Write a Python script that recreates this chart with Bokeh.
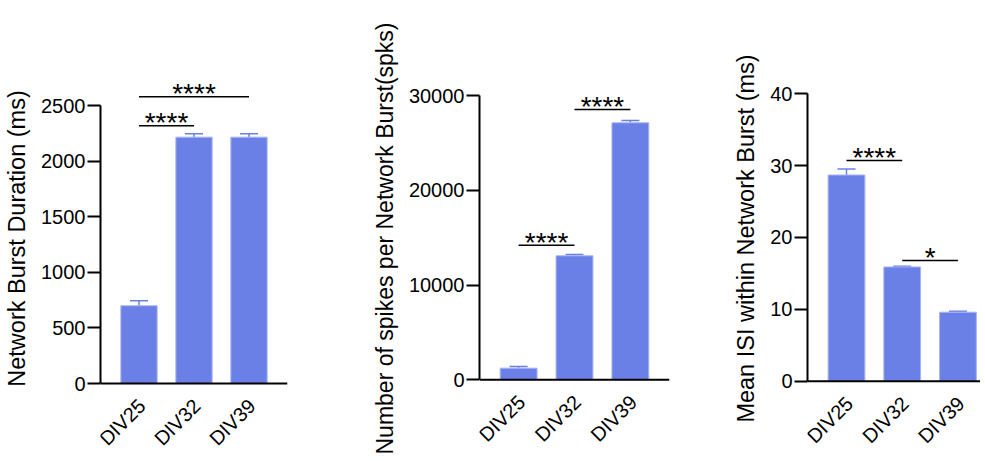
import math
from bokeh.plotting import figure
from bokeh.layouts import row
from bokeh.models import Range1d, FixedTicker, Span, Whisker, TeeHead, ColumnDataSource
from bokeh.core.properties import value
from bokeh.embed import file_html
from bokeh.resources import INLINE

# ---------------- data ----------------
groups = ["DIV25", "DIV32", "DIV39"]

duration_mean = [700, 2218, 2218]
duration_sem = [45, 30, 30]

spikes_mean = [1230, 13100, 27150]
spikes_sem = [170, 140, 240]

isi_mean = [28.7, 15.9, 9.6]
isi_sem = [0.85, 0.1, 0.15]

duration_ticks = [0, 500, 1000, 1500, 2000, 2500]
spikes_ticks = [0, 10000, 20000, 30000]
isi_ticks = [0, 10, 20, 30, 40]

# significance brackets: (from group, to group, bracket level, label)
duration_sig = [(0, 1, 2320, "****"), (0, 2, 2581, "****")]
spikes_sig = [(0, 1, 14200, "****"), (1, 2, 28550, "****")]
isi_sig = [(0, 1, 30.7, "****"), (1, 2, 16.8, "*")]

# ---------------- style ----------------
FONT = "Liberation Sans"
BAR = "#6b80e6"
BAR_EDGE = "#a9b5f2"
X0 = 0.3


def panel(title, means, sems, ticks, sig, width, height, bl, br, bt, bb,
          x_end, y_start, y_end, title_size):
    p = figure(width=width, height=height, output_backend="svg", title=None,
               toolbar_location=None, x_range=Range1d(X0, x_end),
               y_range=Range1d(y_start, y_end), min_border=0)
    p.min_border_left = bl
    p.min_border_right = br
    p.min_border_top = bt
    p.min_border_bottom = bb
    p.outline_line_color = None
    p.background_fill_color = "white"
    p.border_fill_color = "white"
    p.xgrid.grid_line_color = None
    p.ygrid.grid_line_color = None

    xs = list(range(1, len(groups) + 1))
    upper = [m + s for m, s in zip(means, sems)]
    src = ColumnDataSource(dict(x=xs, top=means, upper=upper, name=groups,
                                zero=[0] * len(xs)))
    p.vbar(x="x", top="top", width=0.66, source=src, fill_color=BAR,
           line_color=BAR_EDGE, line_width=1)
    p.add_layout(Whisker(base="x", lower="top", upper="upper", source=src,
                         line_color=BAR, line_width=1.5, lower_head=None,
                         upper_head=TeeHead(size=18, line_color=BAR, line_width=1.5)))

    # baseline (x axis line at value 0)
    p.add_layout(Span(location=0, dimension="width", line_color="black",
                      line_width=2))

    # category labels, rotated 45 degrees under the baseline
    p.text(x="x", y="zero", text="name", source=src, angle=math.pi / 4,
           text_align="right", text_baseline="middle", x_offset=3, y_offset=19,
           text_font=value(FONT), text_font_size="20px", text_color="black")

    for a, b, h, lab in sig:
        p.segment(x0=[xs[a]], x1=[xs[b]], y0=[h], y1=[h], line_color="black",
                  line_width=1.5)
        p.text(x=[(xs[a] + xs[b]) / 2], y=[h], text=[lab], text_align="center",
               text_baseline="alphabetic", y_offset=-3,
               text_font=value(FONT), text_font_size="28px", text_color="black")

    p.xaxis.visible = False

    # y axis
    ya = p.yaxis[0]
    ya.ticker = FixedTicker(ticks=ticks)
    ya.bounds = (0, ticks[-1])
    ya.axis_line_width = 2
    ya.axis_line_color = "black"
    ya.major_tick_line_width = 2
    ya.major_tick_line_color = "black"
    ya.major_tick_out = 13
    ya.major_tick_in = 0
    ya.minor_tick_out = 0
    ya.minor_tick_in = 0
    ya.major_label_standoff = 2
    ya.major_label_text_font = FONT
    ya.major_label_text_font_size = "20px"
    ya.major_label_text_color = "black"
    ya.axis_label = title
    ya.axis_label_standoff = 8
    ya.axis_label_text_font = FONT
    ya.axis_label_text_font_size = title_size
    ya.axis_label_text_font_style = "normal"
    ya.axis_label_text_color = "black"
    return p


p1 = panel("Network Burst Duration (ms)", duration_mean, duration_sem,
           duration_ticks, duration_sig, 368, 460, 100, 81, 17, 1,
           3.7, -684, 3295, "23.5px")
p2 = panel("Number of spikes per Network Burst(spks)", spikes_mean, spikes_sem,
           spikes_ticks, spikes_sig, 362, 460, 109, 61, 17, 1,
           3.7, -8419, 38271, "23px")
p3 = panel("Mean ISI within Network Burst (ms)", isi_mean, isi_sem,
           isi_ticks, isi_sig, 250, 460, 73, 0, 17, 1,
           3.405, -10.90, 50.62, "23.5px")

layout = row(p1, p2, p3)
open("out.html", "w").write(file_html(layout, INLINE))
